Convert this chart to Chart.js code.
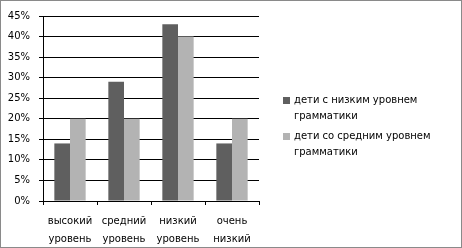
<!DOCTYPE html>
<html>
<head>
<meta charset="utf-8">
<script src="https://cdn.jsdelivr.net/npm/chart.js@4/dist/chart.umd.min.js"></script>
<style>
  body { margin: 0; background: #fff; }
  #wrap { position: relative; width: 462px; height: 248px; }
  #legend { position: absolute; left: 283px; top: 92px; font: 10px "DejaVu Sans", sans-serif; color: #000; }
  .item { position: relative; padding-left: 11px; line-height: 16px; margin-bottom: 4px; }
  .box { position: absolute; left: 0; top: 5px; width: 7px; height: 7px; }
</style>
</head>
<body>
<div id="wrap">
  <canvas id="chart" width="462" height="248"></canvas>
  <div id="legend"></div>
</div>
<script>
const categories = [['высокий', 'уровень'], ['средний', 'уровень'], ['низкий', 'уровень'], ['очень', 'низкий', 'уровень']];
const seriesNames = [['дети с низким уровнем', 'грамматики'], ['дети со средним уровнем', 'грамматики']];
const lowGrammar = [14, 29, 43, 14];
const midGrammar = [20, 20, 40, 20];
const colors = ['#5f5f5f', '#b3b3b3'];

const frame = {
    id: 'frame',
    beforeDraw(chart) {
        const ctx = chart.ctx;
        ctx.save();
        ctx.fillStyle = '#fff';
        ctx.fillRect(0, 0, chart.width, chart.height);
        ctx.restore();
    },
    afterDraw(chart) {
        const ctx = chart.ctx;
        ctx.save();
        ctx.strokeStyle = '#8a8a8a';
        ctx.lineWidth = 1;
        ctx.strokeRect(0.5, 0.5, chart.width - 1, chart.height - 1);
        ctx.restore();
    }
};

const font = { family: '"DejaVu Sans", sans-serif', size: 10 };

new Chart(document.getElementById('chart'), {
    type: 'bar',
    data: {
        labels: categories,
        datasets: [
            { label: seriesNames[0].join(' '), data: lowGrammar, backgroundColor: colors[0] },
            { label: seriesNames[1].join(' '), data: midGrammar, backgroundColor: colors[1] }
        ]
    },
    options: {
        responsive: false,
        animation: false,
        layout: { padding: { left: 0, right: 203, top: 16, bottom: 0 } },
        datasets: { bar: { categoryPercentage: 0.58, barPercentage: 1 } },
        plugins: { legend: { display: false }, tooltip: { enabled: false } },
        scales: {
            x: {
                afterFit: s => { s.height = 47; },
                grid: { display: true, offset: true, drawOnChartArea: false, tickLength: 4, color: '#000' },
                border: { color: '#000' },
                ticks: { color: '#000', font: { ...font, lineHeight: 1.8 }, padding: 7, maxRotation: 0, autoSkip: false }
            },
            y: {
                min: 0,
                max: 45,
                afterFit: s => { s.width = 43; },
                grid: { color: '#000', tickLength: 4 },
                border: { color: '#000' },
                ticks: { stepSize: 5, color: '#000', font: font, padding: 9, callback: v => v + '%' }
            }
        }
    },
    plugins: [frame]
});

const legend = document.getElementById('legend');
seriesNames.forEach((name, i) => {
    const item = document.createElement('div');
    item.className = 'item';
    item.innerHTML = '<span class="box" style="background:' + colors[i] + '"></span>' + name.join('<br>');
    legend.appendChild(item);
});
</script>
</body>
</html>
